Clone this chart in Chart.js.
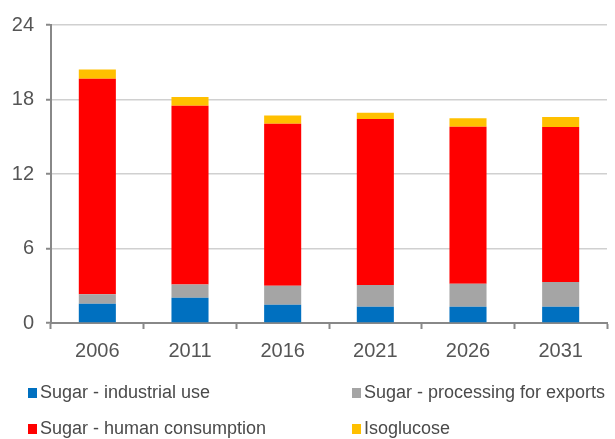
<!DOCTYPE html>
<html>
<head>
<meta charset="utf-8">
<script src="https://cdn.jsdelivr.net/npm/chart.js@4/dist/chart.umd.min.js"></script>
<style>
  html, body { margin: 0; padding: 0; background: #fff; }
  #wrap { width: 615px; height: 439px; position: relative; }
</style>
</head>
<body>
<div id="wrap"><canvas id="sugarChart"></canvas></div>
<script>
const years = ['2006', '2011', '2016', '2021', '2026', '2031'];
const yTicks = [0, 6, 12, 18, 24];

const industrialUse = [1.55, 2.04, 1.47, 1.31, 1.31, 1.31];
const processingExports = [0.76, 1.07, 1.53, 1.75, 1.86, 1.99];
const humanConsumption = [17.36, 14.39, 13.05, 13.37, 12.63, 12.48];
const isoglucose = [0.75, 0.70, 0.67, 0.50, 0.70, 0.81];

const seriesNames = [
    'Sugar - industrial use',
    'Sugar - processing for exports',
    'Sugar - human consumption',
    'Isoglucose'
];
const seriesColors = ['#0070C0', '#A5A5A5', '#FF0000', '#FFC000'];
const seriesValues = [industrialUse, processingExports, humanConsumption, isoglucose];

const FONT = "'Liberation Sans', Arial, sans-serif";

// legend drawn on the canvas, two columns
const legendPlugin = {
    id: 'bottomLegend',
    afterDraw(chart) {
        const ctx = chart.ctx;
        const cols = [28, 352];
        const rows = [393, 429];
        ctx.save();
        ctx.font = '18px ' + FONT;
        ctx.textBaseline = 'middle';
        ctx.textAlign = 'left';
        seriesNames.forEach((name, i) => {
            const x = cols[i % 2];
            const y = rows[Math.floor(i / 2)];
            ctx.fillStyle = seriesColors[i];
            ctx.fillRect(x, y - 5, 9, 10);
            ctx.fillStyle = '#4a4a4a';
            ctx.fillText(name, x + 12, y);
        });
        ctx.restore();
    }
};

const ctx = document.getElementById('sugarChart').getContext('2d');

new Chart(ctx, {
    type: 'bar',
    data: {
        labels: years,
        datasets: seriesNames.map((name, i) => ({
            label: name,
            data: seriesValues[i],
            backgroundColor: seriesColors[i],
            borderWidth: 0,
            categoryPercentage: 0.4,
            barPercentage: 1.0
        }))
    },
    options: {
        responsive: true,
        maintainAspectRatio: false,
        animation: false,
        layout: {
            padding: { top: 25, right: 8, bottom: 0, left: 0 }
        },
        plugins: {
            legend: { display: false },
            tooltip: { enabled: false }
        },
        scales: {
            x: {
                stacked: true,
                grid: {
                    drawOnChartArea: false,
                    drawTicks: true,
                    tickLength: 6,
                    tickColor: '#888',
                    tickWidth: 2,
                    offset: true
                },
                border: { display: true, color: '#888', width: 2 },
                ticks: {
                    color: '#555',
                    padding: 10,
                    font: { family: FONT, size: 20 }
                },
                afterFit(scale) {
                    scale.height = 116;
                }
            },
            y: {
                stacked: true,
                min: yTicks[0],
                max: yTicks[yTicks.length - 1],
                afterBuildTicks(scale) {
                    scale.ticks = yTicks.map(v => ({ value: v }));
                },
                grid: {
                    color: '#d0d0d0',
                    lineWidth: 1.5,
                    tickLength: 5,
                    tickColor: '#888',
                    tickWidth: 2
                },
                border: { display: true, color: '#888', width: 2 },
                ticks: {
                    color: '#555',
                    padding: 12,
                    font: { family: FONT, size: 20 }
                },
                afterFit(scale) {
                    scale.width = 51;
                }
            }
        }
    },
    plugins: [legendPlugin]
});
</script>
</body>
</html>
